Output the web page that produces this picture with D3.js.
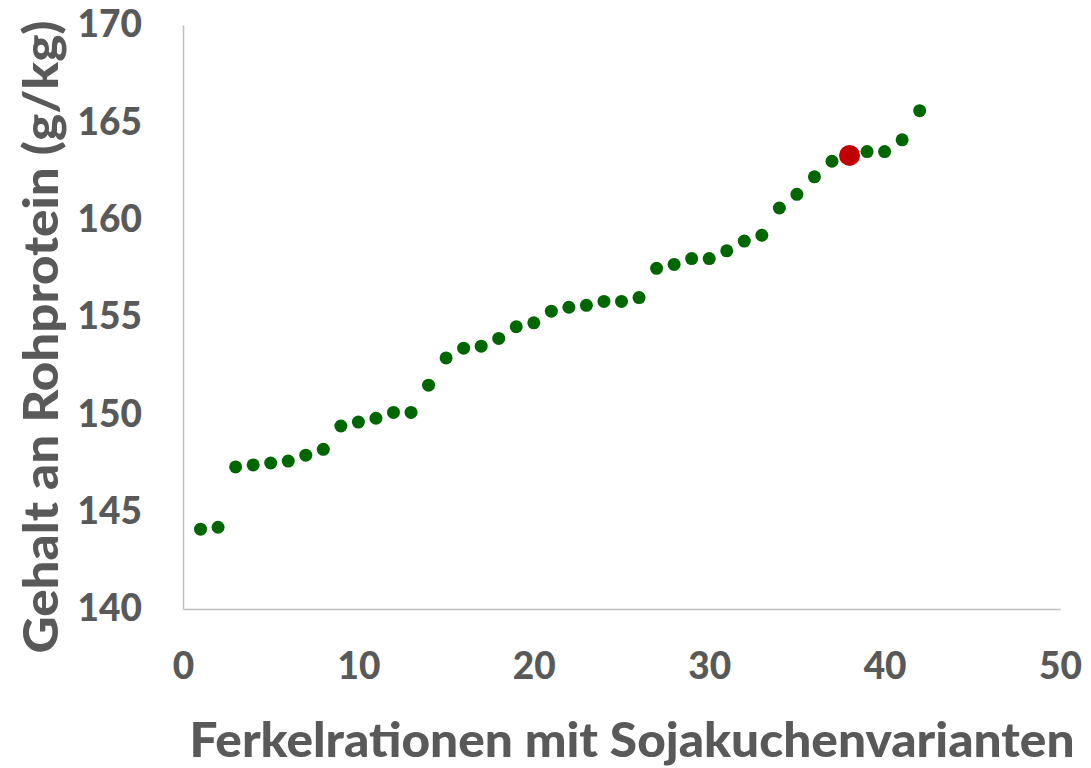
<!DOCTYPE html>
<html>
<head>
<meta charset="utf-8">
<script src="https://cdn.jsdelivr.net/npm/d3@7"></script>
<style>
  html, body { margin: 0; padding: 0; background: #fff; }
  body { width: 1091px; height: 768px; overflow: hidden; }
  text { font-family: Lato, "Open Sans", sans-serif; font-weight: 900; fill: #595959; }
</style>
</head>
<body>
<script>
// Rohprotein content of each ration, sorted ascending
let rationNr = d3.range(1, 43)
let rohprotein = [
  144.1, 144.2, 147.3, 147.4, 147.5, 147.6, 147.9, 148.2, 149.4, 149.6,
  149.8, 150.1, 150.1, 151.5, 152.9, 153.4, 153.5, 153.9, 154.5, 154.7,
  155.3, 155.5, 155.6, 155.8, 155.8, 156.0, 157.5, 157.7, 158.0, 158.0,
  158.4, 158.9, 159.2, 160.6, 161.3, 162.2, 163.0, 163.3, 163.5, 163.5,
  164.1, 165.6
]
let highlightNr = 38
let xTicks = [0, 10, 20, 30, 40, 50]
let yTicks = [140, 145, 150, 155, 160, 165, 170]
let xTitle = 'Ferkelrationen mit Sojakuchenvarianten'
let yTitle = 'Gehalt an Rohprotein (g/kg)'

let width = 1091, height = 768
let plot = {left: 183, right: 1060, top: 25, bottom: 609}

let svg = d3.select('body').append('svg')
  .attr('width', width)
  .attr('height', height)

let x = d3.scaleLinear().domain([0, 50]).range([plot.left, plot.right])
let y = d3.scaleLinear().domain([140, 170]).range([plot.bottom, plot.top])

// axes (no tick marks, grey lines)
let xAxis = svg.append('g')
  .attr('transform', `translate(0, ${plot.bottom})`)
  .call(d3.axisBottom(x).tickValues(xTicks).tickSize(0).tickPadding(44))
let yAxis = svg.append('g')
  .attr('transform', `translate(${plot.left}, 0)`)
  .call(d3.axisLeft(y).tickValues(yTicks).tickSize(0).tickPadding(41))

svg.selectAll('.domain').attr('stroke', '#bfbfbf').attr('stroke-width', 1.5)
svg.selectAll('.tick text')
  .attr('font-size', 37)
  .style('font-family', 'Lato, "Open Sans", sans-serif')
  .style('font-weight', '900')
  .attr('fill', '#595959')
xAxis.selectAll('.tick text').attr('dy', '0.71em')

// points
let pts = rationNr.map((n, i) => ({n: n, v: rohprotein[i]}))
svg.append('g').selectAll('circle')
  .data(pts.filter(d => d.n != highlightNr))
  .join('circle')
  .attr('cx', d => x(d.n))
  .attr('cy', d => y(d.v))
  .attr('r', 6.5)
  .attr('fill', '#006600')
svg.append('g').selectAll('circle')
  .data(pts.filter(d => d.n == highlightNr))
  .join('circle')
  .attr('cx', d => x(d.n))
  .attr('cy', d => y(d.v))
  .attr('r', 10.5)
  .attr('fill', '#c00000')

// titles
svg.append('text')
  .attr('x', 632)
  .attr('y', 757)
  .attr('text-anchor', 'middle')
  .attr('font-size', 48)
  .attr('textLength', 885)
  .attr('lengthAdjust', 'spacingAndGlyphs')
  .text(xTitle)

svg.append('text')
  .attr('transform', 'translate(58, 337) rotate(-90)')
  .attr('text-anchor', 'middle')
  .attr('font-size', 48)
  .attr('textLength', 633)
  .attr('lengthAdjust', 'spacingAndGlyphs')
  .text(yTitle)
</script>
</body>
</html>
